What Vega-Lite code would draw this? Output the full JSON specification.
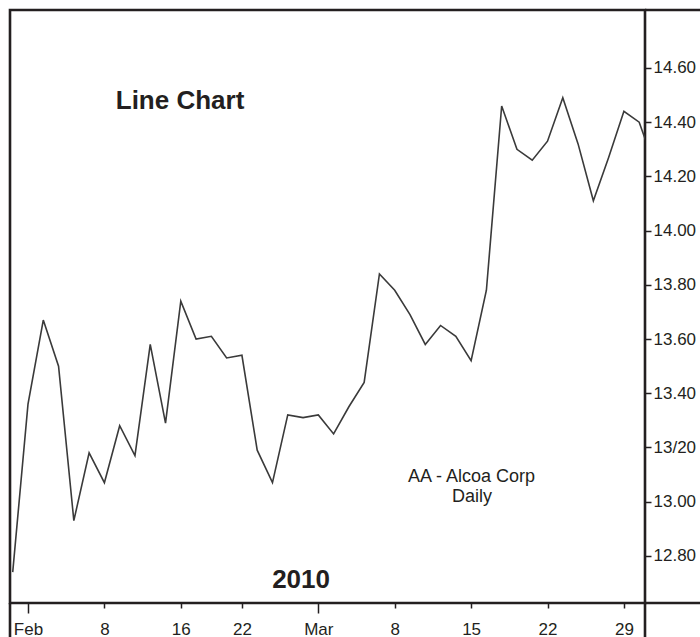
{
  "$schema": "https://vega.github.io/schema/vega-lite/v6.json",
  "width": 635,
  "height": 593,
  "autosize": {"type": "none"},
  "padding": {"left": 10, "top": 10, "right": 55, "bottom": 34},
  "background": "white",
  "config": {
    "font": "Liberation Sans",
    "view": {"stroke": "#231f20", "strokeWidth": 2.6}
  },
  "data": {
    "values": [
      {"idx": -1, "date": "2010-01-29", "close": 12.74},
      {"idx": 0, "date": "2010-02-01", "close": 13.36},
      {"idx": 1, "date": "2010-02-02", "close": 13.67},
      {"idx": 2, "date": "2010-02-03", "close": 13.50},
      {"idx": 3, "date": "2010-02-04", "close": 12.93},
      {"idx": 4, "date": "2010-02-05", "close": 13.18},
      {"idx": 5, "date": "2010-02-08", "close": 13.07},
      {"idx": 6, "date": "2010-02-09", "close": 13.28},
      {"idx": 7, "date": "2010-02-10", "close": 13.17},
      {"idx": 8, "date": "2010-02-11", "close": 13.58},
      {"idx": 9, "date": "2010-02-12", "close": 13.29},
      {"idx": 10, "date": "2010-02-16", "close": 13.74},
      {"idx": 11, "date": "2010-02-17", "close": 13.60},
      {"idx": 12, "date": "2010-02-18", "close": 13.61},
      {"idx": 13, "date": "2010-02-19", "close": 13.53},
      {"idx": 14, "date": "2010-02-22", "close": 13.54},
      {"idx": 15, "date": "2010-02-23", "close": 13.19},
      {"idx": 16, "date": "2010-02-24", "close": 13.07},
      {"idx": 17, "date": "2010-02-25", "close": 13.32},
      {"idx": 18, "date": "2010-02-26", "close": 13.31},
      {"idx": 19, "date": "2010-03-01", "close": 13.32},
      {"idx": 20, "date": "2010-03-02", "close": 13.25},
      {"idx": 21, "date": "2010-03-03", "close": 13.35},
      {"idx": 22, "date": "2010-03-04", "close": 13.44},
      {"idx": 23, "date": "2010-03-05", "close": 13.84},
      {"idx": 24, "date": "2010-03-08", "close": 13.78},
      {"idx": 25, "date": "2010-03-09", "close": 13.69},
      {"idx": 26, "date": "2010-03-10", "close": 13.58},
      {"idx": 27, "date": "2010-03-11", "close": 13.65},
      {"idx": 28, "date": "2010-03-12", "close": 13.61},
      {"idx": 29, "date": "2010-03-15", "close": 13.52},
      {"idx": 30, "date": "2010-03-16", "close": 13.78},
      {"idx": 31, "date": "2010-03-17", "close": 14.46},
      {"idx": 32, "date": "2010-03-18", "close": 14.30},
      {"idx": 33, "date": "2010-03-19", "close": 14.26},
      {"idx": 34, "date": "2010-03-22", "close": 14.33},
      {"idx": 35, "date": "2010-03-23", "close": 14.49},
      {"idx": 36, "date": "2010-03-24", "close": 14.32},
      {"idx": 37, "date": "2010-03-25", "close": 14.11},
      {"idx": 38, "date": "2010-03-26", "close": 14.27},
      {"idx": 39, "date": "2010-03-29", "close": 14.44},
      {"idx": 40, "date": "2010-03-30", "close": 14.40},
      {"idx": 41, "date": "2010-03-31", "close": 14.24}
    ]
  },
  "layer": [
    {
      "mark": {"type": "line", "color": "#3a3a3a", "strokeWidth": 1.6, "clip": true},
      "encoding": {
        "x": {
          "field": "idx",
          "type": "quantitative",
          "scale": {"domain": [-1.178, 40.38], "nice": false, "zero": false},
          "axis": {
            "values": [0, 5, 10, 14, 19, 24, 29, 34, 39],
            "labelExpr": "datum.value == 0 ? 'Feb' : datum.value == 5 ? '8' : datum.value == 10 ? '16' : datum.value == 14 ? '22' : datum.value == 19 ? 'Mar' : datum.value == 24 ? '8' : datum.value == 29 ? '15' : datum.value == 34 ? '22' : '29'",
            "title": null,
            "grid": false,
            "domain": false,
            "tickColor": "#231f20",
            "tickWidth": 1.5,
            "tickSize": {"condition": {"test": "datum.value == 0 || datum.value == 19", "value": 10}, "value": 5},
            "labelPadding": {"condition": {"test": "datum.value == 0 || datum.value == 19", "value": 8}, "value": 13},
            "labelFontSize": 17,
            "labelColor": "#231f20",
            "labelFlush": false,
            "labelOverlap": false
          }
        },
        "y": {
          "field": "close",
          "type": "quantitative",
          "scale": {"domain": [12.626, 14.814], "nice": false, "zero": false},
          "axis": {
            "orient": "right",
            "values": [12.8, 13.0, 13.2, 13.4, 13.6, 13.8, 14.0, 14.2, 14.4, 14.6],
            "labelExpr": "abs(datum.value - 13.2) < 0.001 ? '13/20' : format(datum.value, '.2f')",
            "title": null,
            "grid": false,
            "domain": false,
            "tickColor": "#231f20",
            "tickWidth": 1.5,
            "tickSize": 6,
            "labelPadding": 2,
            "labelFontSize": 17,
            "labelColor": "#231f20",
            "labelFlush": false,
            "labelOverlap": false
          }
        }
      }
    },
    {
      "data": {"values": [{"label": "Line Chart"}]},
      "mark": {"type": "text", "fontSize": 26, "fontWeight": "bold", "align": "center", "baseline": "alphabetic", "color": "#231f20"},
      "encoding": {
        "x": {"datum": 9.95, "type": "quantitative"},
        "y": {"datum": 14.449, "type": "quantitative"},
        "text": {"field": "label"}
      }
    },
    {
      "data": {"values": [{"label": "2010"}]},
      "mark": {"type": "text", "fontSize": 26, "fontWeight": "bold", "align": "center", "baseline": "alphabetic", "color": "#231f20"},
      "encoding": {
        "x": {"datum": 17.87, "type": "quantitative"},
        "y": {"datum": 12.681, "type": "quantitative"},
        "text": {"field": "label"}
      }
    },
    {
      "data": {"values": [{"label": "AA - Alcoa Corp"}]},
      "mark": {"type": "text", "fontSize": 18, "align": "center", "baseline": "alphabetic", "color": "#231f20"},
      "encoding": {
        "x": {"datum": 29.02, "type": "quantitative"},
        "y": {"datum": 13.073, "type": "quantitative"},
        "text": {"field": "label"}
      }
    },
    {
      "data": {"values": [{"label": "Daily"}]},
      "mark": {"type": "text", "fontSize": 18, "align": "center", "baseline": "alphabetic", "color": "#231f20"},
      "encoding": {
        "x": {"datum": 29.05, "type": "quantitative"},
        "y": {"datum": 13.0, "type": "quantitative"},
        "text": {"field": "label"}
      }
    },
    {
      "data": {"values": [{"edge": "top"}]},
      "mark": {"type": "rule", "color": "#231f20", "strokeWidth": 2.6},
      "encoding": {
        "x": {"datum": 40.38, "type": "quantitative"},
        "x2": {"datum": 44.6},
        "y": {"datum": 14.814, "type": "quantitative"}
      }
    },
    {
      "data": {"values": [{"edge": "bottom"}]},
      "mark": {"type": "rule", "color": "#231f20", "strokeWidth": 2.6},
      "encoding": {
        "x": {"datum": 40.38, "type": "quantitative"},
        "x2": {"datum": 44.6},
        "y": {"datum": 12.626, "type": "quantitative"}
      }
    },
    {
      "data": {"values": [{"edge": "left"}]},
      "mark": {"type": "rule", "color": "#231f20", "strokeWidth": 2.6},
      "encoding": {
        "x": {"datum": -1.178, "type": "quantitative"},
        "y": {"datum": 12.626, "type": "quantitative"},
        "y2": {"datum": 12.48}
      }
    },
    {
      "data": {"values": [{"edge": "right"}]},
      "mark": {"type": "rule", "color": "#231f20", "strokeWidth": 2.6},
      "encoding": {
        "x": {"datum": 40.38, "type": "quantitative"},
        "y": {"datum": 12.626, "type": "quantitative"},
        "y2": {"datum": 12.48}
      }
    }
  ]
}
